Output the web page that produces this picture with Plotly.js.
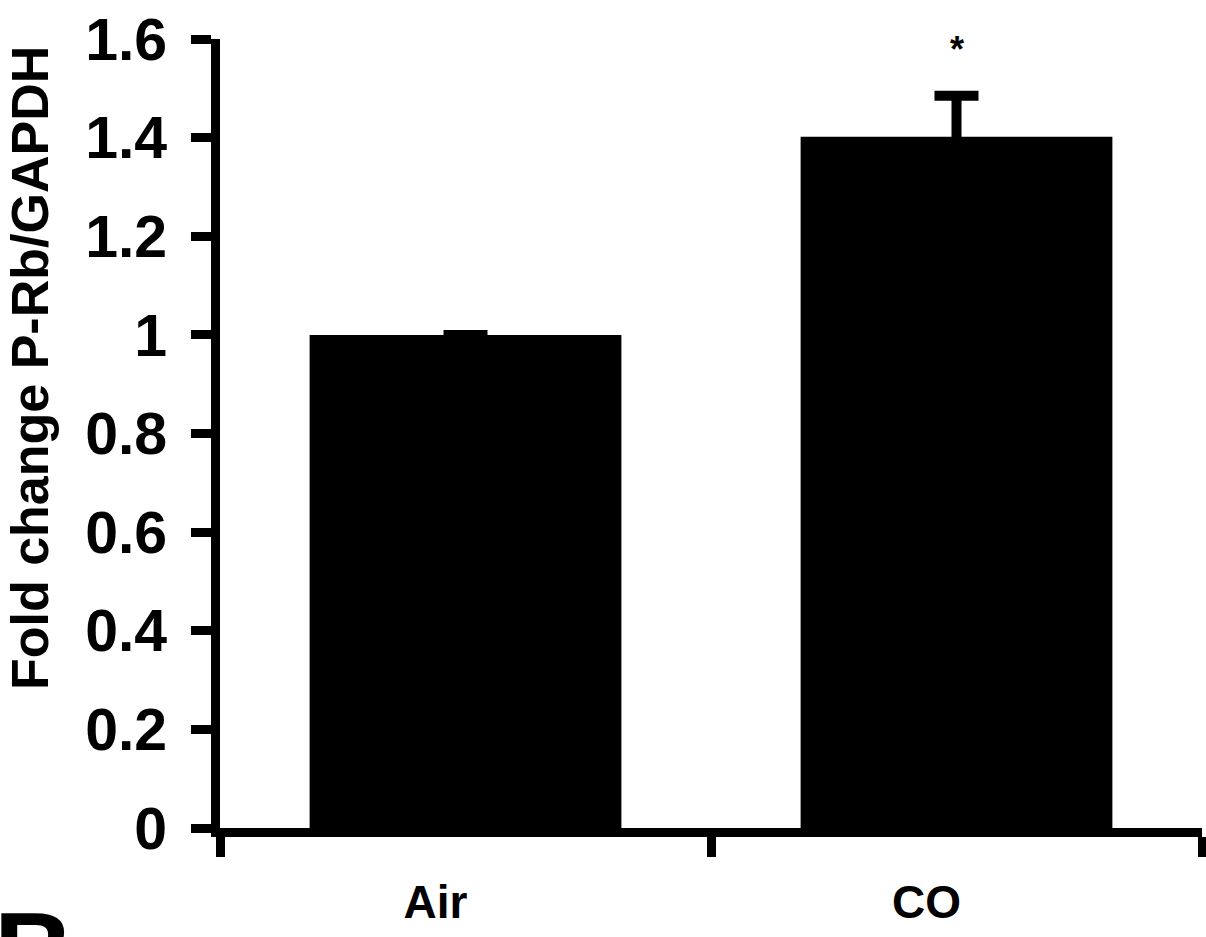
<!DOCTYPE html>
<html>
<head>
<meta charset="utf-8">
<script src="https://cdn.plot.ly/plotly-3.0.1.min.js"></script>
<style>html,body{margin:0;padding:0;background:#fff;} #chart{width:1206px;height:937px;}</style>
</head>
<body>
<div id="chart"></div>
<script>
// ---- data ----
const categories = ['Air', 'CO'];
const foldChange = [1.0, 1.402];
const semError = [0.0, 0.083];
const significance = ['', '*'];
const yTickValues = [0, 0.2, 0.4, 0.6, 0.8, 1, 1.2, 1.4, 1.6];
const yTickLabels = ['0', '0.2', '0.4', '0.6', '0.8', '1', '1.2', '1.4', '1.6'];
const yTitle = 'Fold change P-Rb/GAPDH';
const panelLetter = 'B';

// ---- layout geometry ----
const W = 1206, H = 937;
const M = {l: 220, r: 4, t: 39, b: 109};
const plotW = W - M.l - M.r, plotH = H - M.t - M.b;
const FONT = 'Liberation Sans, Arial, Helvetica, sans-serif';
// pixel -> paper helpers for free-standing text
const px2paperX = px => (px - M.l) / plotW;
const px2paperY = py => (H - M.b - py) / plotH;

const trace = {
  type: 'bar',
  x: categories,
  y: foldChange,
  width: 0.635,
  marker: {color: '#000000', line: {width: 0}},
  error_y: {type: 'data', array: semError, visible: true, color: '#000000', thickness: 10, width: 22},
  hoverinfo: 'x+y'
};

const annotations = [];
categories.forEach((c, i) => {
  if (significance[i]) {
    annotations.push({
      x: c, y: foldChange[i] + semError[i], xref: 'x', yref: 'y',
      text: significance[i], showarrow: false,
      yanchor: 'bottom', yshift: 24,
      font: {family: FONT, size: 36, color: '#000', weight: 700}
    });
  }
});
// y-axis title placed as rotated text
annotations.push({
  xref: 'paper', yref: 'paper',
  x: px2paperX(30), y: px2paperY(368),
  xanchor: 'center', yanchor: 'middle',
  textangle: -90, showarrow: false,
  text: yTitle,
  font: {family: FONT, size: 52, color: '#000', weight: 700}
});
// panel letter, partly cut by the bottom edge
annotations.push({
  xref: 'paper', yref: 'paper',
  x: px2paperX(0), y: px2paperY(907),
  xanchor: 'left', yanchor: 'top', xshift: -8, yshift: 20,
  text: panelLetter, showarrow: false,
  font: {family: FONT, size: 110, color: '#000', weight: 700}
});

const layout = {
  width: W, height: H,
  margin: M,
  paper_bgcolor: '#ffffff', plot_bgcolor: '#ffffff',
  showlegend: false,
  xaxis: {
    type: 'category',
    range: [-0.5, 1.5],
    tickson: 'boundaries',
    showline: true, linecolor: '#000', linewidth: 9,
    ticks: 'outside', ticklen: 20, tickwidth: 9, tickcolor: '#000',
    showgrid: false, zeroline: false,
    ticklabelshift: -30, ticklabelstandoff: 26,
    tickfont: {family: FONT, size: 46, color: '#000', weight: 700},
    fixedrange: true
  },
  yaxis: {
    range: [0, 1.6],
    tickvals: yTickValues, ticktext: yTickLabels,
    showline: true, linecolor: '#000', linewidth: 9,
    ticks: 'outside', ticklen: 20, tickwidth: 9, tickcolor: '#000',
    showgrid: false, zeroline: false,
    ticklabelstandoff: 12,
    tickfont: {family: FONT, size: 59, color: '#000', weight: 700},
    automargin: false,
    fixedrange: true
  },
  annotations: annotations
};

Plotly.newPlot('chart', [trace], layout, {displayModeBar: false, staticPlot: true});
</script>
</body>
</html>
